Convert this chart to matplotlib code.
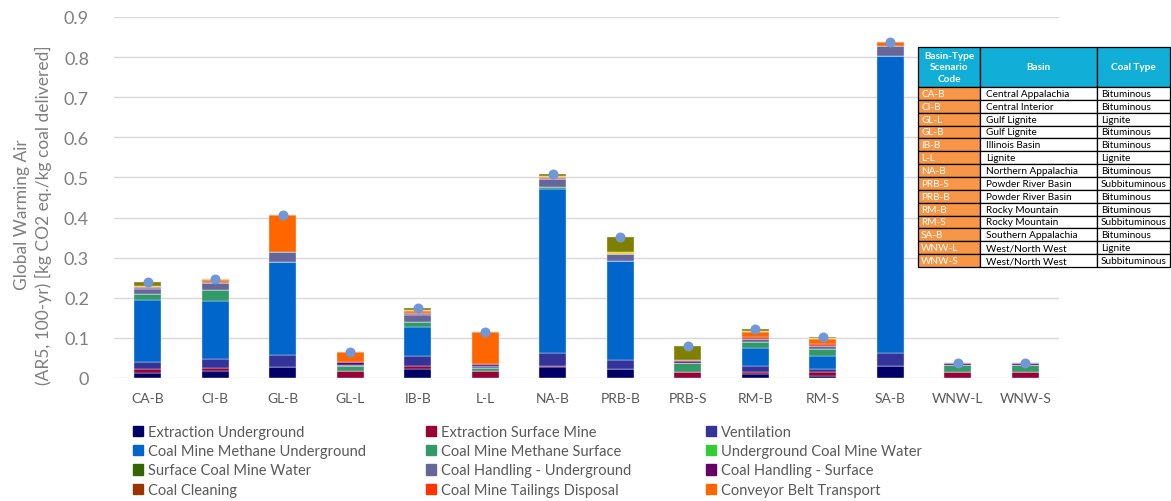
import numpy as np
import matplotlib
matplotlib.use("Agg")
import matplotlib.pyplot as plt
from matplotlib.patches import Patch

plt.rcParams["font.family"] = ["Lato", "DejaVu Sans"]

# -----------------------------------------------------------------------
# Data (kg CO2 eq. / kg coal delivered)
# -----------------------------------------------------------------------
scenarios = ["CA-B", "CI-B", "GL-B", "GL-L", "IB-B", "L-L", "NA-B",
             "PRB-B", "PRB-S", "RM-B", "RM-S", "SA-B", "WNW-L", "WNW-S"]

extraction_ug   = [0.013, 0.018, 0.027, 0.000, 0.022, 0.000, 0.027, 0.022, 0.000, 0.010, 0.006, 0.029, 0.000, 0.000]
extraction_surf = [0.010, 0.008, 0.000, 0.018, 0.007, 0.018, 0.003, 0.000, 0.014, 0.006, 0.008, 0.000, 0.014, 0.014]
ventilation     = [0.017, 0.022, 0.031, 0.000, 0.025, 0.000, 0.032, 0.022, 0.000, 0.013, 0.008, 0.033, 0.000, 0.000]
cmm_ug          = [0.155, 0.144, 0.232, 0.000, 0.072, 0.000, 0.408, 0.248, 0.000, 0.046, 0.032, 0.740, 0.000, 0.000]
cmm_surf        = [0.014, 0.027, 0.000, 0.012, 0.013, 0.008, 0.006, 0.000, 0.023, 0.014, 0.018, 0.000, 0.018, 0.018]
ug_water        = [0.000, 0.000, 0.000, 0.000, 0.000, 0.000, 0.000, 0.000, 0.000, 0.000, 0.000, 0.000, 0.000, 0.000]
surf_water      = [0.000, 0.000, 0.000, 0.000, 0.000, 0.000, 0.000, 0.000, 0.000, 0.000, 0.000, 0.000, 0.000, 0.000]
handling_ug     = [0.013, 0.017, 0.023, 0.003, 0.017, 0.003, 0.021, 0.017, 0.000, 0.008, 0.007, 0.025, 0.000, 0.000]
handling_surf   = [0.003, 0.002, 0.000, 0.007, 0.003, 0.007, 0.000, 0.000, 0.005, 0.001, 0.002, 0.000, 0.005, 0.005]
coal_cleaning   = [0.000, 0.000, 0.000, 0.000, 0.000, 0.000, 0.000, 0.000, 0.000, 0.000, 0.000, 0.000, 0.000, 0.000]
tailings        = [0.002, 0.002, 0.002, 0.000, 0.003, 0.000, 0.002, 0.000, 0.003, 0.004, 0.004, 0.000, 0.000, 0.000]
conveyor        = [0.000, 0.004, 0.091, 0.026, 0.004, 0.078, 0.003, 0.000, 0.000, 0.012, 0.011, 0.010, 0.000, 0.000]
# two more stages whose legend entries are cut off in the source image
transport_a     = [0.002, 0.002, 0.000, 0.000, 0.004, 0.000, 0.002, 0.004, 0.000, 0.003, 0.003, 0.000, 0.000, 0.000]
transport_b     = [0.010, 0.000, 0.000, 0.000, 0.005, 0.000, 0.004, 0.039, 0.036, 0.004, 0.003, 0.000, 0.000, 0.000]

stage_labels = ["Extraction Underground", "Extraction Surface Mine", "Ventilation",
                "Coal Mine Methane Underground", "Coal Mine Methane Surface",
                "Underground Coal Mine Water", "Surface Coal Mine Water",
                "Coal Handling - Underground", "Coal Handling - Surface",
                "Coal Cleaning", "Coal Mine Tailings Disposal", "Conveyor Belt Transport"]

table_codes = ["CA-B", "CI-B", "GL-L", "GL-B", "IB-B", "L-L", "NA-B",
               "PRB-S", "PRB-B", "RM-B", "RM-S", "SA-B", "WNW-L", "WNW-S"]
table_basins = ["Central Appalachia", "Central Interior", "Gulf Lignite", "Gulf Lignite",
                "Illinois Basin", "Lignite", "Northern Appalachia", "Powder River Basin",
                "Powder River Basin", "Rocky Mountain", "Rocky Mountain",
                "Southern Appalachia", "West/North West", "West/North West"]
table_types = ["Bituminous", "Bituminous", "Lignite", "Bituminous", "Bituminous", "Lignite",
               "Bituminous", "Subbituminous", "Bituminous", "Bituminous", "Subbituminous",
               "Bituminous", "Lignite", "Subbituminous"]

# -----------------------------------------------------------------------
# Styling
# -----------------------------------------------------------------------
series = [extraction_ug, extraction_surf, ventilation, cmm_ug, cmm_surf, ug_water,
          surf_water, handling_ug, handling_surf, coal_cleaning, tailings, conveyor,
          transport_a, transport_b]
colors = ["#000066", "#990033", "#333399", "#0066CC", "#339966", "#33CC33",
          "#336600", "#666699", "#660066", "#993300", "#FF3300", "#FF6600",
          "#FFCC00", "#808000"]
GRAY = "#7F7F7F"
TEXT = "#595959"

fig = plt.figure(figsize=(11.71, 5.02), dpi=100)
ax = fig.add_axes([114 / 1171, 1 - 379 / 502, 945 / 1171, 361 / 502])

x = np.arange(len(scenarios))
bottom = np.zeros(len(scenarios))
for vals, col in zip(series, colors):
    v = np.array(vals)
    ax.bar(x, v, width=0.4, bottom=bottom, color=col,
           edgecolor="#DCE6F2", linewidth=0.3, zorder=2)
    bottom += v

# total marker
ax.scatter(x, bottom, s=38, color="#7098D6", zorder=3)

ax.set_xlim(-0.5, len(scenarios) - 0.5)
ax.set_ylim(0, 0.9)
ax.set_yticks(np.arange(0, 0.91, 0.1))
ax.set_yticklabels(["0"] + [f"{v:.1f}" for v in np.arange(0.1, 0.91, 0.1)])
ax.set_xticks(x)
ax.set_xticklabels(scenarios)
ax.tick_params(axis="y", labelsize=13, colors=GRAY, length=0, pad=18)
ax.tick_params(axis="x", labelsize=10, colors=TEXT, length=0, pad=10)
ax.grid(axis="y", color="#D9D9D9", linewidth=1, zorder=0)
for s in ax.spines.values():
    s.set_visible(False)

fig.text(33 / 1171, 1 - 215 / 502,
         "Global Warming Air\n(AR5, 100-yr) [kg CO2 eq./kg coal delivered]",
         rotation=90, ha="center", va="center", multialignment="center",
         fontsize=12.5, color=GRAY, linespacing=1.3)

# legend: three columns placed separately to keep Excel-style spacing
col_x = [133 / 1171, 426 / 1171, 706 / 1171]
for c in range(3):
    handles = [Patch(color=colors[i], label=stage_labels[i]) for i in range(c, 12, 3)]
    leg = fig.legend(handles=handles, loc="upper left",
                     bbox_to_anchor=(col_x[c], 1 - 426 / 502), frameon=False,
                     fontsize=10.5, handlelength=0.7, handleheight=0.7,
                     handletextpad=0.35, labelspacing=0.36, borderaxespad=0,
                     borderpad=0)
    for t in leg.get_texts():
        t.set_color(TEXT)

# basin / coal type table
ax_t = fig.add_axes([918 / 1171, 1 - 268 / 502, 252 / 1171, 220 / 502])
ax_t.axis("off")
cells = [[c, b, t] for c, b, t in zip(table_codes, table_basins, table_types)]
tbl = ax_t.table(cellText=cells,
                 colLabels=["Basin-Type\nScenario\nCode", "Basin", "Coal Type"],
                 colWidths=[62, 117, 73], bbox=[0, 0, 1, 1])
tbl.auto_set_font_size(False)
for (r, c), cell in tbl.get_celld().items():
    cell.set_edgecolor("black")
    cell.set_linewidth(0.9)
    txt = cell.get_text()
    txt.set_fontsize(7.2)
    if r == 0:
        cell.set_height(40)
        cell.set_facecolor("#11AFD8")
        txt.set_color("white")
        txt.set_fontweight("bold")
        txt.set_ha("center")
        txt.set_linespacing(1.35)
    else:
        cell.set_height(12.86)
        txt.set_ha("left")
        cell.PAD = 0.05
        if c == 0:
            cell.set_facecolor("#F79646")
            txt.set_color("white")
        else:
            cell.set_facecolor("white")
            txt.set_color("black")

fig.savefig("out.png", dpi=100)
